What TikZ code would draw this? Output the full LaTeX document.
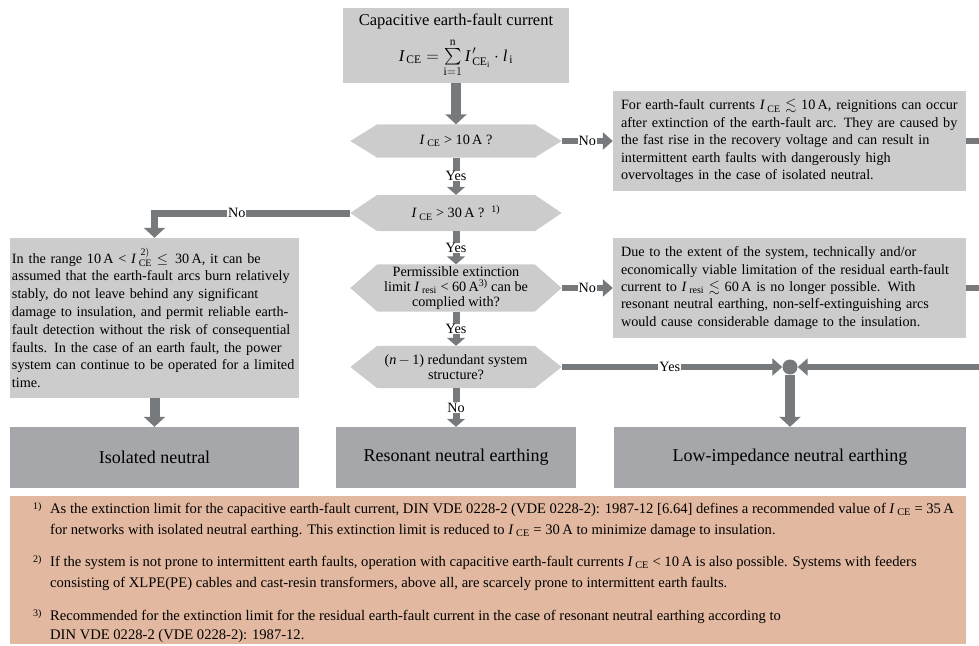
\documentclass[tikz,border=0pt]{standalone}
\usepackage{amsmath,amssymb}
\usepackage{fontspec}
\setmainfont{Liberation Serif}
\usetikzlibrary{arrows.meta,backgrounds,calc}

\definecolor{boxlight}{RGB}{204,204,204}
\definecolor{boxdark}{RGB}{166,167,170}
\definecolor{arrowgray}{RGB}{118,122,124}
\definecolor{notebg}{RGB}{226,185,160}

\newcommand{\Isub}[1]{\textit{I}\,$_{\mathrm{#1}}$}
\newcommand{\hexnode}[4]{%
  \node[hexbox, minimum height=#3] (#1) at (#2) {#4};
  \begin{scope}[on background layer]
    \fill[boxlight] (#1.west) -- ([xshift=27pt]#1.north west) -- ([xshift=-27pt]#1.north east)
      -- (#1.east) -- ([xshift=-27pt]#1.south east) -- ([xshift=27pt]#1.south west) -- cycle;
  \end{scope}}

\begin{document}
\begin{tikzpicture}[x=1pt,y=-1pt,
  bodyfont/.style={font=\fontsize{14.2}{17.4}\selectfont},
  topbox/.style={fill=boxlight, minimum width=226pt, minimum height=75pt, inner sep=0pt, align=center, font=\fontsize{16.5}{19}\selectfont},
  textbox/.style={fill=boxlight, inner xsep=8pt, inner ysep=0pt, text width=337pt, minimum height=100pt, align=left, bodyfont},
  leftbox/.style={fill=boxlight, inner xsep=2pt, inner ysep=0pt, text width=285pt, minimum height=160pt, align=left, font=\fontsize{14.2}{17.8}\selectfont, execute at begin node={\hyphenpenalty=10000 }},
  hexbox/.style={minimum width=211pt, inner sep=0pt, align=center, bodyfont},
  resultbox/.style={fill=boxdark, minimum height=61pt, inner sep=0pt, font=\fontsize{18}{21}\selectfont},
  bigarrow/.style={draw=arrowgray, line width=10pt, -{Triangle[width=21pt,length=10pt]}},
  midarrow/.style={draw=arrowgray, line width=7pt, -{Triangle[width=18pt,length=8pt]}},
  harrow/.style={draw=arrowgray, line width=6pt, -{Triangle[width=17pt,length=10pt]}},
  stub/.style={draw=arrowgray, line width=6pt},
  lab/.style={fill=white, inner xsep=1pt, inner ysep=0.5pt, bodyfont},
  notetext/.style={anchor=base west, inner sep=0pt, font=\fontsize{14.6}{17}\selectfont},
  notenum/.style={anchor=base west, inner sep=0pt, font=\fontsize{10}{11}\selectfont},
]
\useasboundingbox (0,0) rectangle (979,645);

% top box
\node[topbox] (top) at (456,45.5) {Capacitive earth-fault current\\[8pt]
  $\mathit{I}_{\,\mathrm{CE}} = \sum\limits_{\mathrm{i}=1}^{\mathrm{n}} \mathit{I}^{\,\prime}_{\,\mathrm{CE}_\mathrm{i}}\cdot \mathit{l}_{\,\mathrm{i}}$};

% decisions
\hexnode{d1}{456,141}{33pt}{\Isub{CE} > 10\,A ?}
\hexnode{d2}{456,213}{36pt}{\Isub{CE} > 30\,A ?\enspace\textsuperscript{1)}}
\hexnode{d3}{456,288}{47pt}{Permissible extinction\\[-2pt] limit \textit{I}\,$_{\mathrm{resi}}$ < 60\,A\textsuperscript{3)} can be\\[-2pt] complied with?}
\hexnode{d4}{456,367}{42pt}{(\textit{n}\,$-$\,1) redundant system\\[-2pt] structure?}

% text boxes
\node[textbox] (b1) at (789.5,141) {For earth-fault currents \Isub{CE} $\lesssim$ 10\,A, reignitions can occur\\
after extinction of the earth-fault arc. They are caused by\\
the fast rise in the recovery voltage and can result in\\
intermittent earth faults with dangerously high\\
overvoltages in the case of isolated neutral.};

\node[textbox] (b2) at (789.5,288) {Due to the extent of the system, technically and/or\\
economically viable limitation of the residual earth-fault\\
current to \textit{I}\,$_{\mathrm{resi}}$ $\lesssim$ 60\,A is no longer possible. With\\
resonant neutral earthing, non-self-extinguishing arcs\\
would cause considerable damage to the insulation.};

\node[leftbox] (lb) at (154.5,318) {In the range 10\,A < \textit{I}\,$_{\mathrm{CE}}^{\,\mathrm{2)}}$ $\leq$\, 30\,A, it can be\\
assumed that the earth-fault arcs burn relatively\\
stably, do not leave behind any significant\\
damage to insulation, and permit reliable earth-\\
fault detection without the risk of consequential\\
faults. In the case of an earth fault, the power\\
system can continue to be operated for a limited\\
time.};

% results
\node[resultbox, minimum width=289pt] (rA) at (154.5,457.5) {Isolated neutral};
\node[resultbox, minimum width=240pt] (rB) at (456,457.5) {Resonant neutral earthing};
\node[resultbox, minimum width=352pt] (rC) at (790,457.5) {Low-impedance neutral earthing};

% junction
\node[circle, fill=arrowgray, minimum size=15pt, inner sep=0pt] (jn) at (790,367) {};
\coordinate (r0) at (979,367);
\coordinate (r1) at (979,141);
\coordinate (r2) at (979,288);

% connectors
\draw[bigarrow] (top.south) -- (d1.north);
\draw[harrow] (d1.east) -- node[lab]{No} (b1.west);
\draw[midarrow] (d1.south) -- node[lab]{Yes} (d2.north);
\draw[draw=arrowgray, line width=7pt, -{Triangle[width=21pt,length=10pt]}] (d2.west) -| node[lab, pos=0.29]{No} (lb.north);
\draw[midarrow] (d2.south) -- node[lab]{Yes} (d3.north);
\draw[harrow] (d3.east) -- node[lab]{No} (b2.west);
\draw[midarrow] (d3.south) -- node[lab]{Yes} (d4.north);
\draw[midarrow] (d4.south) -- node[lab]{No} (rB.north);
\draw[harrow] (d4.east) -- node[lab, pos=0.49]{Yes} (jn.west);
\draw[harrow] (r0) -- (jn.east);
\draw[bigarrow] (jn.south) -- (rC.north);
\draw[bigarrow] (lb.south) -- (rA.north);
\draw[stub] (b1.east) -- (r1);
\draw[stub] (b2.east) -- (r2);

% notes
\node[fill=notebg, minimum width=956pt, minimum height=148pt, inner sep=0pt] (notes) at (488,570) {};
\node[notenum] (n1) at (33,509) {1)};
\node[notetext] (t1a) at (50,513) {As the extinction limit for the capacitive earth-fault current, DIN VDE 0228-2 (VDE 0228-2): 1987-12 [6.64] defines a recommended value of \Isub{CE} = 35\,A};
\node[notetext] (t1b) at (50,534) {for networks with isolated neutral earthing. This extinction limit is reduced to \Isub{CE} = 30\,A to minimize damage to insulation.};
\node[notenum] (n2) at (33,562) {2)};
\node[notetext] (t2a) at (50,566) {If the system is not prone to intermittent earth faults, operation with capacitive earth-fault currents \Isub{CE} < 10\,A is also possible. Systems with feeders};
\node[notetext] (t2b) at (50,587) {consisting of XLPE(PE) cables and cast-resin transformers, above all, are scarcely prone to intermittent earth faults.};
\node[notenum] (n3) at (33,616) {3)};
\node[notetext] (t3a) at (50,620) {Recommended for the extinction limit for the residual earth-fault current in the case of resonant neutral earthing according to};
\node[notetext] (t3b) at (50,639) {DIN VDE 0228-2 (VDE 0228-2): 1987-12.};
\end{tikzpicture}
\end{document}
